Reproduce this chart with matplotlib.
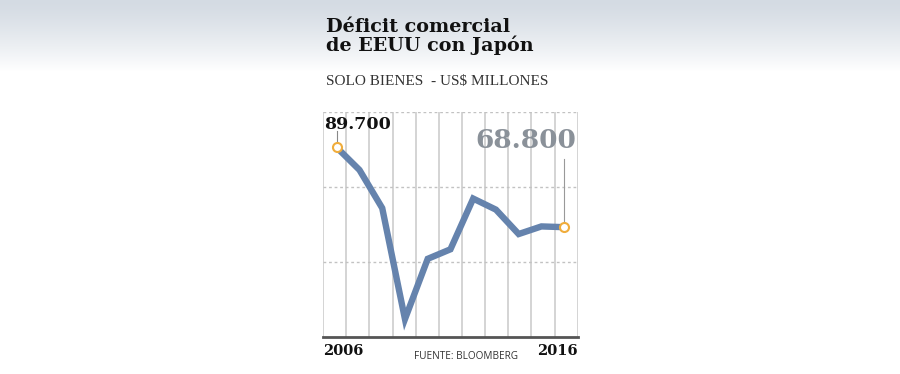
import numpy as np
import matplotlib.pyplot as plt
from matplotlib.colors import LinearSegmentedColormap

# Deficit comercial de EEUU con Japon (US$ miles de millones)
years = [2006, 2007, 2008, 2009, 2010, 2011, 2012, 2013, 2014, 2015, 2016]
deficit = [89.7, 83.8, 73.8, 44.7, 60.5, 63.0, 76.3, 73.4, 67.0, 69.0, 68.8]
first_label = "89.700"
last_label = "68.800"

fig = plt.figure(figsize=(9, 3.74), dpi=100)

# light blue-gray gradient band at the top
bg = fig.add_axes([0, 0, 1, 1], zorder=-10)
cmap = LinearSegmentedColormap.from_list('band', ['#d4dbe3', '#ffffff'])
grad = np.ones((374, 1))
grad[:72, 0] = np.linspace(0, 1, 72) ** 1.3
bg.imshow(grad, aspect='auto', cmap=cmap, vmin=0, vmax=1,
          extent=[0, 1, 0, 1], origin='upper')
bg.axis('off')

fig.text(0.362, 0.953, "Déficit comercial\nde EEUU con Japón", family='DejaVu Serif',
         weight='bold', fontsize=13.8, va='top', ha='left', linespacing=1.0, color='#111111')
fig.text(0.362, 0.782, "SOLO BIENES  - US$ MILLONES", family='Liberation Serif',
         fontsize=11, va='center', ha='left', color='#333333')

ax = fig.add_axes([0.359, 0.0989, 0.283, 0.6016])
ax.set_xlim(2005.4, 2016.6)
ax.set_ylim(40, 99)

for gx in np.linspace(2005.4, 2016.6, 12):
    ax.axvline(gx, color='#c9c9c9', lw=1.1, zorder=1)
for gy in [59.7, 79.3, 99]:
    ax.axhline(gy, color='#c2c2c2', lw=1.0, ls=(0, (2, 2)), zorder=1)

ax.plot(years, deficit, color='#6583ad', lw=4.6, solid_joinstyle='miter',
        solid_capstyle='butt', zorder=3)
ax.plot([years[0], years[-1]], [deficit[0], deficit[-1]], 'o', ms=6.5,
        mfc='white', mec='#f0ad3c', mew=1.5, zorder=4)

# leader lines and value labels
ax.plot([years[0], years[0]], [deficit[0] + 1.6, deficit[0] + 4.2], color='#888888', lw=0.8)
ax.text(years[0] - 0.55, deficit[0] + 6.0, first_label, family='DejaVu Serif',
        weight='bold', fontsize=12.5, ha='left', va='center', color='#111111')
ax.plot([years[-1], years[-1]], [deficit[-1] + 1.2, deficit[-1] + 18], color='#999999', lw=0.8)
ax.text(years[-1] + 0.55, deficit[-1] + 22.8, last_label, family='DejaVu Serif',
        weight='bold', fontsize=19, ha='right', va='center', color='#8a9199')

for s in ['top', 'right', 'left']:
    ax.spines[s].set_visible(False)
ax.spines['bottom'].set_color('#555555')
ax.spines['bottom'].set_linewidth(2)
ax.set_yticks([])
ax.set_xticks([])

fig.text(0.359, 0.062, "2006", family='DejaVu Serif', weight='bold', fontsize=10.5,
         ha='left', va='center', color='#111111')
fig.text(0.642, 0.062, "2016", family='DejaVu Serif', weight='bold', fontsize=10.5,
         ha='right', va='center', color='#111111')
fig.text(0.518, 0.046, "FUENTE: BLOOMBERG", family='Open Sans', fontsize=7.2,
         ha='center', va='center', color='#333333')

fig.savefig('out.png', dpi=100)
